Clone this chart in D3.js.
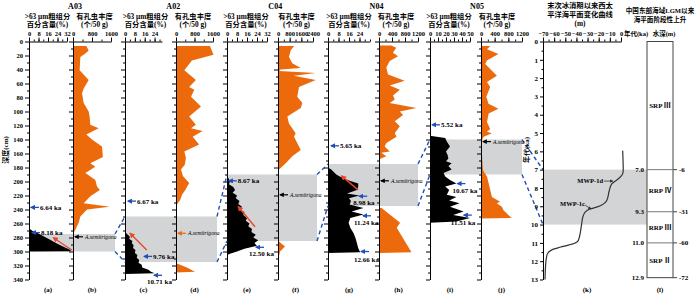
<!DOCTYPE html>
<html>
<head>
<meta charset="utf-8">
<script src="https://cdnjs.cloudflare.com/ajax/libs/d3/7.8.5/d3.min.js"></script>
<style>
  body { margin: 0; background: #fff; }
  svg text { font-family: "Liberation Serif", "Times New Roman", "Noto Sans CJK SC", serif; font-weight: bold; fill: #000; }
  svg text.it { font-style: italic; font-weight: normal; }
</style>
</head>
<body>
<script>
// ---- data: [depth (cm), value] ----
const a03Coarse = [[268,0],[268,0.8],[271,3.4],[274,7.6],[278,11.8],[283,17.4],[288,22.7],[293,28.6],[298,35],[299.5,35],[300,0]];
const a03Foram = [[6.6,560],[13,660],[17,520],[22,310],[41,280],[55,660],[67,450],[74,380],[88,450],[100,660],[107,700],[119,730],[124,1080],[133,560],[140,800],[150,1220],[165,1260],[174,730],[179,940],[188,520],[198,940],[207,1010],[212,1130],[221,730],[231,450],[236,1550],[240,590],[250,310],[259,240],[269,100],[275,0]];
const a02Coarse = [[273,0],[274,1],[279,4],[282,3.5],[285,6],[288,5.5],[291,7],[295,6.5],[298,8.5],[302,8],[305,10],[309,9.5],[312,11.5],[316,11],[319,13.5],[323,14],[326,19],[329,21],[331,24],[332,0]];
const a02Foram = [[6.6,1470],[19,1620],[27,690],[41,360],[55,860],[65,570],[69,790],[79,650],[93,1080],[107,570],[119,860],[124,650],[128,1150],[136,720],[147,1000],[157,360],[166,430],[176,380],[183,215],[192,300],[202,570],[212,400],[219,260],[226,185],[233,45],[248,15],[250,0],[316,0],[317,40],[323,470],[329,820],[330,0]];
const c04Coarse = [[193,0],[196,1.5],[200,2.5],[204,1.5],[208,5],[212,6.5],[216,4.5],[220,8],[224,7],[228,10],[232,9],[236,12],[240,10.5],[244,14],[248,13],[252,16],[256,15],[260,18],[264,17],[268,20],[272,19.5],[276,23],[280,21],[284,25],[288,22],[292,24],[296,14],[300,8],[303,3],[305,0]];
const c04Foram = [[6.6,1100],[12.7,870],[22,750],[31,980],[38,1560],[40,185],[42,70],[45,2590],[49,1080],[55,2590],[65,1440],[79,1320],[88,1670],[95,1560],[107,640],[117,750],[131,1210],[136,1100],[145,1320],[155,1560],[164,980],[174,530],[183,70],[188,0],[284,0],[287,150],[293,480],[300,140],[310,30],[312,0]];
const n04Coarse = [[180,0],[183,2.5],[190,6.3],[194,10],[199,16.5],[203,23],[208,23],[212,22],[217,14.5],[220,24],[224,16],[228,17.5],[233,16.5],[238,27],[243,18],[247,27],[252,17],[259,15.7],[266,17],[274,19.5],[281,21],[288,22],[295,23],[301,24.5],[302,0]];
const n04Foram = [[5.7,380],[9,530],[16,430],[21,585],[28,330],[37,225],[47,277],[56,790],[63,330],[69,640],[77,430],[83,485],[88,330],[95,1150],[100,640],[105,740],[114,485],[121,640],[131,485],[136,540],[145,225],[150,175],[157,330],[159,70],[164,225],[168,20],[170,0],[238,0],[238,80],[259,650],[266,545],[301,1000],[302,0]];
const n05Coarse = [[135,0],[135,2],[138,19],[143,21],[150,25],[157,20],[162,22],[167,23],[171,20],[174,27],[178,23],[183,27],[188,17],[193,19],[198,25],[203,33],[207,19],[212,24],[219,21],[222,33],[227,24],[231,37],[236,25],[243,42],[248,29],[252,50],[257,33],[259,0]];
const n05Foram = [[6.6,270],[11,175],[18,510],[27,175],[32,125],[49,465],[58,175],[65,270],[79,155],[89,220],[96,510],[103,225],[115,175],[125,270],[129,175],[131,320],[136,80],[141,20],[163,30],[184,60],[189,125],[193,175],[203,225],[212,270],[222,320],[229,560],[231,465],[236,610],[241,660],[248,800],[252,900],[253,0]];

// gray intervals (cm) per core, and age interval (ka) in panel k
const cores = ["A03","A02","C04","N04","N05"];
const grayDepths = [[275,300],[250,315],[190,285],[175,235],[140,190]];
const grayAges = [7.0, 10.0];

// dated levels: [panel, depth, value at arrow tip, label]
const ageMarks = [
  ["a",237,0.8,"6.64 ka"],["a",273,1.7,"8.18 ka"],
  ["c",228,1.6,"6.67 ka"],["c",307,14.6,"9.76 ka"],["c",334,22.7,"10.71 ka"],
  ["e",199,0.6,"8.67 ka"],["e",294,22.4,"12.50 ka"],
  ["g",149,1.5,"5.65 ka"],["g",221,23,"8.98 ka"],["g",249,25.9,"11.24 ka"],["g",300,24.4,"12.66 ka"],
  ["i",119,1.3,"5.52 ka"],["i",203,33,"10.67 ka"],["i",248,41,"11.51 ka"]
];
// A. semitrigona first occurrence depth
const semiMarks = [["b",279],["d",274],["f",219],["h",199],["j",143]];
// red trend arrows: [panel, [depth, value] from, [depth, value] to]
const trendArrows = [
  ["a",[297.9,36],[280.3,20.5]],
  ["c",[297.9,17.6],[274,4.1]],
  ["e",[264.6,22.4],[236,9.0]],
  ["g",[212,22.9],[192,10.3]]
];

// sea level curve [age ka, m]
const seaLevel = [[5.96,1.5],[7.0,2.0],[7.23,1.5],[7.5,-2.4],[7.78,-8.3],[8.14,-10.5],[8.69,-12.8],[9.05,-21.8],[9.15,-27.8],[9.33,-32.3],[9.6,-34.3],[9.96,-35.3],[10.87,-38.3],[11.05,-42.8],[11.24,-55.0],[11.38,-62.1],[11.6,-66.1],[11.97,-67.3],[12.5,-67.9],[13.0,-68.2]];
const seaTicks = [-70,-60,-50,-40,-30,-20,-10,0];
// stages
const stageAges = [7.0, 9.3, 11.0, 12.9];
const stageLevels = ["-6","-31","-60","-72"];
const stageNames = ["SRP Ⅲ","RRP Ⅳ","RRP Ⅲ","SRP Ⅱ"];

// ---- layout ----
const orange = "#ec6a0c", grayFill = "#d2d4d5", blue = "#2150b8", red = "#e9472b";
const panels = [
  {key:"a", x0:29,  x1:67,  domain:[0,32],   ticks:[0,8,16,24,32],  minor:4,   data:a03Coarse, fill:"#000", kind:"c", hx:47.5},
  {key:"b", x0:73,  x1:111, domain:[0,1600], ticks:[0,800,1600],    minor:400, data:a03Foram,  fill:orange, kind:"f", hx:94.5},
  {key:"c", x0:125, x1:162, domain:[0,30],   ticks:[0,8,16,24],     minor:4,   data:a02Coarse, fill:"#000", kind:"c", hx:145.5},
  {key:"d", x0:176, x1:213, domain:[0,1600], ticks:[0,800,1600],    minor:400, data:a02Foram,  fill:orange, kind:"f", hx:193},
  {key:"e", x0:227, x1:267, domain:[0,32],   ticks:[0,8,16,24,32],  minor:4,   data:c04Coarse, fill:"#000", kind:"c", hx:246},
  {key:"f", x0:278, x1:313, domain:[0,2400], ticks:[0,800,1600,2400], minor:400, data:c04Foram, fill:orange, kind:"f", hx:296.5},
  {key:"g", x0:328, x1:370, domain:[0,32],   ticks:[0,8,16,24],     minor:4,   data:n04Coarse, fill:"#000", kind:"c", hx:349},
  {key:"h", x0:379, x1:418, domain:[0,1200], ticks:[0,400,800,1200], minor:200, data:n04Foram, fill:orange, kind:"f", hx:396},
  {key:"i", x0:430, x1:470, domain:[0,50],   ticks:[0,10,20,30,40,50], minor:5, data:n05Coarse, fill:"#000", kind:"c", hx:449},
  {key:"j", x0:481, x1:522, domain:[0,1200], ticks:[0,400,800,1200], minor:200, data:n05Foram, fill:orange, kind:"f", hx:497}
];
const grayRight = [115, 217, 317, 418, 522];
const byKey = {};
panels.forEach(p => { p.x = d3.scaleLinear().domain(p.domain).range([p.x0, p.x1]); byKey[p.key] = p; });

const svg = d3.select("body").append("svg").attr("width", 700).attr("height", 295);
const y = d3.scaleLinear().domain([0, 340]).range([41.5, 279.5]);
const yAge = d3.scaleLinear().domain([0, 13]).range([41.5, 279.5]);
const xk = d3.scaleLinear().domain([-70, 0]).range([543, 621]);

// arrow heads
const defs = svg.append("defs");
[["blue",blue],["black","#000"],["red",red],["orange",orange],["dark","#333"]].forEach(([id,c]) => {
  defs.append("marker").attr("id","ah-"+id).attr("viewBox","0 0 10 10")
    .attr("refX",8).attr("refY",5).attr("markerWidth",4).attr("markerHeight",4)
    .attr("orient","auto")
    .append("path").attr("d","M0,0L10,5L0,10z").attr("fill",c);
});

// gray bands
grayDepths.forEach((g, i) => {
  const p = panels[i*2];
  svg.append("rect").attr("x", p.x0).attr("y", y(g[0]))
    .attr("width", grayRight[i] - p.x0).attr("height", y(g[1]) - y(g[0]))
    .attr("fill", grayFill);
});
svg.append("rect").attr("x", xk(-70)).attr("y", yAge(grayAges[0]))
  .attr("width", 647 - xk(-70)).attr("height", yAge(grayAges[1]) - yAge(grayAges[0]))
  .attr("fill", grayFill);

// areas
panels.forEach(p => {
  svg.append("path").datum(p.data)
    .attr("fill", p.fill)
    .attr("d", d3.area().y(d => y(d[0])).x0(p.x(0)).x1(d => p.x(d[1])));
});

// axes (font-size must be set after the axis call)
function small(g, fs) { g.attr("font-size", fs).attr("font-family", null); }
panels.forEach(p => {
  svg.append("g").attr("transform", `translate(${p.x0},0)`)
    .call(d3.axisLeft(y).tickValues(d3.range(0, 341, 20)).tickSize(4).tickSizeOuter(0).tickPadding(2)
      .tickFormat(p.key === "a" ? d3.format("d") : ""))
    .call(small, 6.5);
  svg.append("g").attr("transform", `translate(${p.x0},0)`)
    .call(d3.axisLeft(y).tickValues(d3.range(10, 340, 20)).tickSize(2).tickFormat(""))
    .select(".domain").remove();
  svg.append("g").attr("transform", `translate(0,${y(0)})`)
    .call(d3.axisTop(p.x).tickValues(p.ticks).tickSize(4).tickSizeOuter(0).tickPadding(2).tickFormat(d3.format("d")))
    .call(small, 6.5);
  svg.append("g").attr("transform", `translate(0,${y(0)})`)
    .call(d3.axisTop(p.x).tickValues(d3.range(p.domain[0], p.domain[1] + 1e-6, p.minor)).tickSize(2).tickFormat(""))
    .select(".domain").remove();
});

// dashed links between cores
const links = [];
grayDepths.forEach((g, i) => {
  if (i < grayDepths.length - 1) {
    const nx = panels[(i+1)*2].x0, ng = grayDepths[i+1];
    links.push([grayRight[i], y(g[0]), nx, y(ng[0])], [grayRight[i], y(g[1]), nx, y(ng[1])]);
  } else {
    links.push([grayRight[i], y(g[0]), xk(-70), yAge(grayAges[0])], [grayRight[i], y(g[1]), xk(-70), yAge(grayAges[1])]);
  }
});
svg.selectAll("line.link").data(links).join("line").attr("class","link")
  .attr("x1", d => d[0]).attr("y1", d => d[1]).attr("x2", d => d[2]).attr("y2", d => d[3])
  .attr("stroke", blue).attr("stroke-width", 1.4).attr("stroke-dasharray", "4,3");

// dated levels
const below = {"10.71 ka":[-7,9],"12.50 ka":[-7,8.5],"8.98 ka":[-6,8.5],"11.24 ka":[-9,9.5],"12.66 ka":[-7,10],"10.67 ka":[-5,9.5],"11.51 ka":[-13,10]};
ageMarks.forEach(([k, d, v, label]) => {
  const p = byKey[k], tx = p.x(v) + 1, ty = y(d);
  svg.append("line").attr("x1", tx + 8).attr("y1", ty).attr("x2", tx).attr("y2", ty)
    .attr("stroke", blue).attr("stroke-width", 1.3).attr("marker-end", "url(#ah-blue)");
  const off = below[label];
  svg.append("text").attr("font-size", 7)
    .attr("x", off ? tx + off[0] : tx + 9).attr("y", off ? ty + off[1] : ty + 2.5)
    .text(label);
});

// A. semitrigona
semiMarks.forEach(([k, d]) => {
  const p = byKey[k], tx = p.x0 + 2, ty = y(d);
  const c = k === "d" ? orange : "#000";
  svg.append("line").attr("x1", tx + 8).attr("y1", ty).attr("x2", tx).attr("y2", ty)
    .attr("stroke", c).attr("stroke-width", 1.2).attr("marker-end", k === "d" ? "url(#ah-orange)" : "url(#ah-black)");
  svg.append("text").attr("class", "it").attr("font-size", 5.6).attr("x", tx + 10).attr("y", ty + 2)
    .text("A.semitrigona");
});

// red arrows
trendArrows.forEach(([k, a, b]) => {
  const p = byKey[k];
  svg.append("line").attr("x1", p.x(a[1])).attr("y1", y(a[0])).attr("x2", p.x(b[1])).attr("y2", y(b[0]))
    .attr("stroke", red).attr("stroke-width", 1.4).attr("marker-end", "url(#ah-red)");
});

// headers
const hdr = (x, yy, t, fs) => svg.append("text").attr("x", x).attr("y", yy).attr("text-anchor", "middle").attr("font-size", fs || 7.3).text(t);
cores.forEach((c, i) => {
  const a = panels[i*2], b = panels[i*2+1];
  hdr((a.hx + b.hx) / 2 + 4, 9, c, 8);
});
panels.forEach(p => {
  if (p.kind === "c") { hdr(p.hx, 18.5, ">63 μm粗组分"); hdr(p.hx, 27, "百分含量(%)"); }
  else { hdr(p.hx, 18.5, "有孔虫丰度"); hdr(p.hx, 27, "(个/50 g)"); }
  svg.append("text").attr("x", (p.x0 + p.x1) / 2).attr("y", 292).attr("text-anchor", "middle")
    .attr("font-size", 7).text("(" + p.key + ")");
});
svg.append("text").attr("transform", "translate(8,150) rotate(-90)").attr("text-anchor", "middle")
  .attr("font-size", 7).text("深度(cm)");

// panel k: sea level
svg.append("g").attr("transform", `translate(0,${yAge(0)})`)
  .call(d3.axisTop(xk).tickValues(seaTicks).tickSize(4).tickSizeOuter(0).tickPadding(2))
  .call(small, 6.5);
svg.append("g").attr("transform", `translate(0,${yAge(0)})`)
  .call(d3.axisTop(xk).tickValues(d3.range(-70, 0.1, 5)).tickSize(2).tickFormat(""))
  .select(".domain").remove();
svg.append("g").attr("transform", `translate(${xk(-70)},0)`)
  .call(d3.axisLeft(yAge).tickValues(d3.range(0, 14)).tickSize(3).tickSizeOuter(0).tickPadding(2))
  .call(small, 7);
svg.append("g").attr("transform", `translate(${xk(-70)},0)`)
  .call(d3.axisLeft(yAge).tickValues(d3.range(0.5, 13, 1)).tickSize(1.5).tickFormat(""))
  .select(".domain").remove();
svg.append("path").datum(seaLevel)
  .attr("fill", "none").attr("stroke", "#333").attr("stroke-width", 1.2)
  .attr("d", d3.line().x(d => xk(d[1])).y(d => yAge(d[0])).curve(d3.curveMonotoneY));
svg.append("text").attr("transform", "translate(529,150) rotate(-90)").attr("text-anchor", "middle")
  .attr("font-size", 7).text("年代(ka)");
hdr(580, 8, "末次冰消期以来西太");
hdr(580, 17, "平洋海平面变化曲线");
hdr(580, 26, "(m)");
svg.append("text").attr("x", 603).attr("y", yAge(7.6) + 2.5).attr("text-anchor", "end").attr("font-size", 6.5).text("MWP-1d");
svg.append("line").attr("x1", 604).attr("y1", yAge(7.6) + 0.5).attr("x2", xk(-7.5)).attr("y2", yAge(7.62))
  .attr("stroke", "#333").attr("stroke-width", 0.8).attr("marker-end", "url(#ah-dark)");
svg.append("text").attr("x", 585).attr("y", yAge(8.85) + 2.5).attr("text-anchor", "end").attr("font-size", 6.5).text("MWP-1c");
svg.append("line").attr("x1", 585).attr("y1", yAge(8.88) + 1).attr("x2", xk(-27)).attr("y2", yAge(9.15))
  .attr("stroke", "#333").attr("stroke-width", 0.8).attr("marker-end", "url(#ah-dark)");

// panel l: stages
const bx0 = 647, bx1 = 673;
svg.append("rect").attr("x", bx0).attr("y", yAge(0)).attr("width", bx1 - bx0)
  .attr("height", yAge(stageAges[3]) - yAge(0)).attr("fill", "none").attr("stroke", "#444").attr("stroke-width", 1);
stageAges.forEach((a, i) => {
  if (i < 3) svg.append("line").attr("x1", bx0).attr("x2", bx1).attr("y1", yAge(a)).attr("y2", yAge(a))
    .attr("stroke", "#777").attr("stroke-width", 1);
  svg.append("line").attr("x1", bx1).attr("x2", bx1 + 4).attr("y1", yAge(a)).attr("y2", yAge(a))
    .attr("stroke", "#444").attr("stroke-width", 1);
  svg.append("text").attr("x", bx0 - 3).attr("y", yAge(a) + 2.5).attr("text-anchor", "end").attr("font-size", 7)
    .text(a.toFixed(1));
  svg.append("text").attr("x", bx1 + 6).attr("y", yAge(a) + 2.5).attr("font-size", 7).text(stageLevels[i]);
  const top = i === 0 ? 0 : stageAges[i-1];
  svg.append("text").attr("x", (bx0 + bx1) / 2).attr("y", yAge((top + a) / 2) + 2.5).attr("text-anchor", "middle")
    .attr("font-size", 7).text(stageNames[i]);
});
hdr(660, 13, "中国东部海域LGM以来", 6.6);
hdr(660, 22, "海平面阶段性上升", 6.6);
hdr(636, 35.5, "年代(ka)", 6.5);
hdr(664, 35.5, "水深(m)", 6.5);
svg.append("text").attr("x", 587).attr("y", 292).attr("text-anchor", "middle").attr("font-size", 7).text("(k)");
svg.append("text").attr("x", (bx0 + bx1) / 2).attr("y", 292).attr("text-anchor", "middle").attr("font-size", 7).text("(l)");
</script>
</body>
</html>
